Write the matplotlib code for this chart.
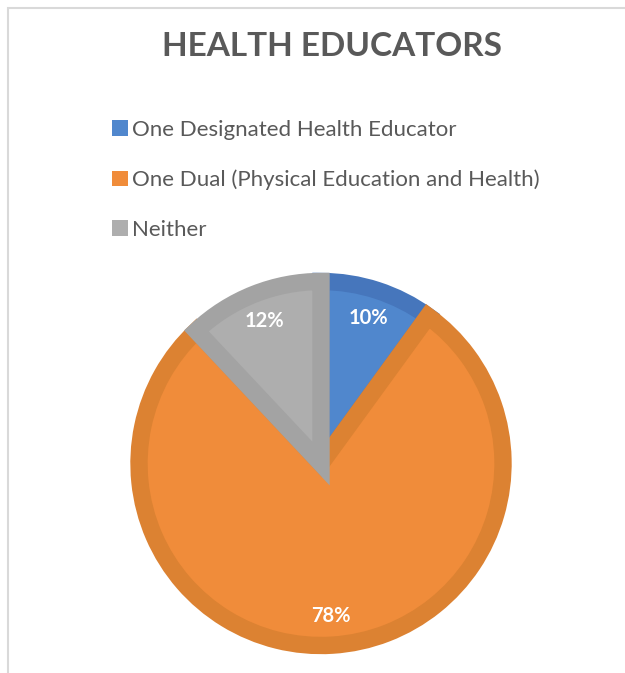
import matplotlib.pyplot as plt
from matplotlib.patches import Patch, Rectangle

labels = ["One Designated Health Educator",
          "One Dual (Physical Education and Health)",
          "Neither"]
values = [10, 78, 12]
fill_colors = ["#5087CD", "#F08C3A", "#AEAEAE"]
edge_colors = ["#4676BC", "#DC8232", "#A3A3A3"]
title = "HEALTH EDUCATORS"
text_grey = "#595959"

plt.rcParams['font.family'] = ['Lato', 'DejaVu Sans']

W, H = 625, 673
fig = plt.figure(figsize=(W / 100, H / 100), dpi=100)

# chart frame (only top and left edges visible in the crop)
fig.patches.append(Rectangle((8 / W, -0.1), 1.2, 1.1 - 8 / H, transform=fig.transFigure,
                             fill=False, edgecolor="#D9D9D9", linewidth=1.5))

cx, cy, r = 321, 463.5, 182
ax = fig.add_axes([(cx - r) / W, (H - cy - r) / H, 2 * r / W, 2 * r / H])
wedges, texts, autotexts = ax.pie(values, colors=fill_colors, startangle=90, counterclock=False,
                                  autopct="%d%%", pctdistance=0.84,
                                  textprops=dict(color="white", fontsize=14.5, fontweight="bold"))
for w, ec in zip(wedges, edge_colors):
    w.set_edgecolor(ec)
    w.set_linewidth(12.5)
    w.set_clip_path(w)
ax.set_xlim(-1, 1)
ax.set_ylim(-1, 1)
ax.axis("off")

fig.text(332 / W, 1 - 47 / H, title, ha="center", va="center",
         fontsize=24, fontweight="bold", color=text_grey)

handles = [Patch(facecolor=c, edgecolor="none") for c in fill_colors]
fig.legend(handles, labels, loc="upper left", bbox_to_anchor=(112 / W, 1 - 120 / H),
           frameon=False, fontsize=16, labelcolor=text_grey,
           handlelength=0.7, handleheight=0.7, handletextpad=0.2,
           labelspacing=1.33, borderpad=0, borderaxespad=0)

fig.savefig("out.png", dpi=100)
